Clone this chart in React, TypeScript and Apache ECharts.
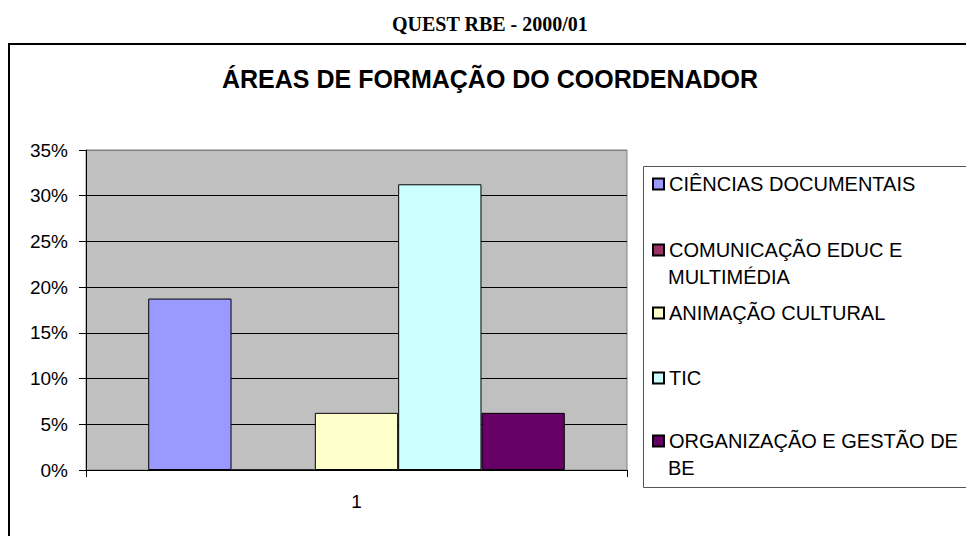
import React, { useEffect, useRef } from "react";
import * as echarts from "echarts";

const categories: string[] = ["1"];
const seriesNames: string[] = [
  "CIÊNCIAS DOCUMENTAIS",
  "COMUNICAÇÃO EDUC E MULTIMÉDIA",
  "ANIMAÇÃO CULTURAL",
  "TIC",
  "ORGANIZAÇÃO E GESTÃO DE BE",
];
const legendFirstLines: string[] = [
  "CIÊNCIAS DOCUMENTAIS",
  "COMUNICAÇÃO EDUC E",
  "ANIMAÇÃO CULTURAL",
  "TIC",
  "ORGANIZAÇÃO E GESTÃO DE",
];
const legendSecondLines: string[] = ["", "MULTIMÉDIA", "", "", "BE"];
const seriesValues: number[] = [0.1875, 0, 0.0625, 0.3125, 0.0625];
const seriesColors: string[] = ["#9999FF", "#993366", "#FFFFCC", "#CCFFFF", "#660066"];
const legendCenters: number[] = [184, 250, 313, 378, 441];
const chartTitle = "QUEST RBE - 2000/01";
const plotTitle = "ÁREAS DE FORMAÇÃO DO COORDENADOR";

export default function App() {
  const ref = useRef<HTMLDivElement>(null);
  useEffect(() => {
    if (!ref.current) return;
    const chart = echarts.init(ref.current, null, { renderer: "svg" });
    const sans = "'Liberation Sans', Arial, sans-serif";
    const legends = seriesNames.map((name, i) => ({
      data: [name],
      left: 652,
      top: legendCenters[i] - 11,
      padding: 0,
      itemWidth: 11,
      itemHeight: 11,
      itemGap: 0,
      icon: "rect",
      formatter: () => legendFirstLines[i],
      selectedMode: false,
      textStyle: { fontFamily: sans, fontSize: 20, color: "#000", lineHeight: 22 },
    }));
    const graphics: any[] = [
      {
        type: "rect",
        shape: { x: 9, y: 44, width: 1000, height: 600 },
        style: { fill: "none", stroke: "#000", lineWidth: 2 },
        silent: true,
      },
      {
        type: "rect",
        shape: { x: 643.5, y: 166.5, width: 340, height: 321 },
        style: { fill: "none", stroke: "#555", lineWidth: 1 },
        silent: true,
      },
    ];
    legendSecondLines.forEach((t, i) => {
      if (!t) return;
      graphics.push({
        type: "text",
        x: 668,
        y: legendCenters[i] + 27,
        style: {
          text: t,
          fontFamily: sans,
          fontSize: 20,
          fill: "#000",
          textVerticalAlign: "middle",
        },
        silent: true,
      });
    });
    chart.setOption({
      animation: false,
      backgroundColor: "#fff",
      title: [
        {
          text: chartTitle,
          left: 392,
          top: 14,
          padding: 0,
          textStyle: {
            fontFamily: "'Liberation Serif', 'Times New Roman', serif",
            fontWeight: "bold",
            fontSize: 20,
            color: "#000",
          },
        },
        {
          text: plotTitle,
          left: 222,
          top: 66,
          padding: 0,
          textStyle: { fontFamily: sans, fontWeight: "bold", fontSize: 25, color: "#000" },
        },
      ],
      legend: legends,
      grid: {
        left: 86,
        top: 150,
        right: 339,
        bottom: 66,
        show: true,
        backgroundColor: "#C0C0C0",
        borderColor: "#808080",
        borderWidth: 1,
      },
      xAxis: {
        type: "category",
        data: categories,
        axisLine: { lineStyle: { color: "#000", width: 1 } },
        axisTick: { show: true, length: 7, lineStyle: { color: "#000" } },
        axisLabel: { fontFamily: sans, fontSize: 19, color: "#000", margin: 22 },
      },
      yAxis: {
        type: "value",
        min: 0,
        max: 0.35,
        interval: 0.05,
        axisLine: { show: true, lineStyle: { color: "#000", width: 1 } },
        axisTick: { show: true, length: 7, lineStyle: { color: "#000" } },
        axisLabel: {
          fontFamily: sans,
          fontSize: 19,
          color: "#000",
          margin: 18,
          formatter: (v: number) => Math.round(v * 100) + "%",
        },
        splitLine: {
          show: true,
          lineStyle: {
            color: ["#000", "#000", "#000", "#000", "#000", "#000", "#000", "#808080"],
            width: 1,
          },
        },
      },
      series: seriesNames.map((name, i) => ({
        name,
        type: "bar",
        data: [seriesValues[i]],
        barGap: "0%",
        barCategoryGap: "23%",
        itemStyle: { color: seriesColors[i], borderColor: "#000", borderWidth: 1 },
      })),
      graphic: graphics,
    });
    return () => chart.dispose();
  }, []);
  return (
    <div
      ref={ref}
      style={{ position: "fixed", left: 0, top: 0, width: 966, height: 536, background: "#fff" }}
    />
  );
}
